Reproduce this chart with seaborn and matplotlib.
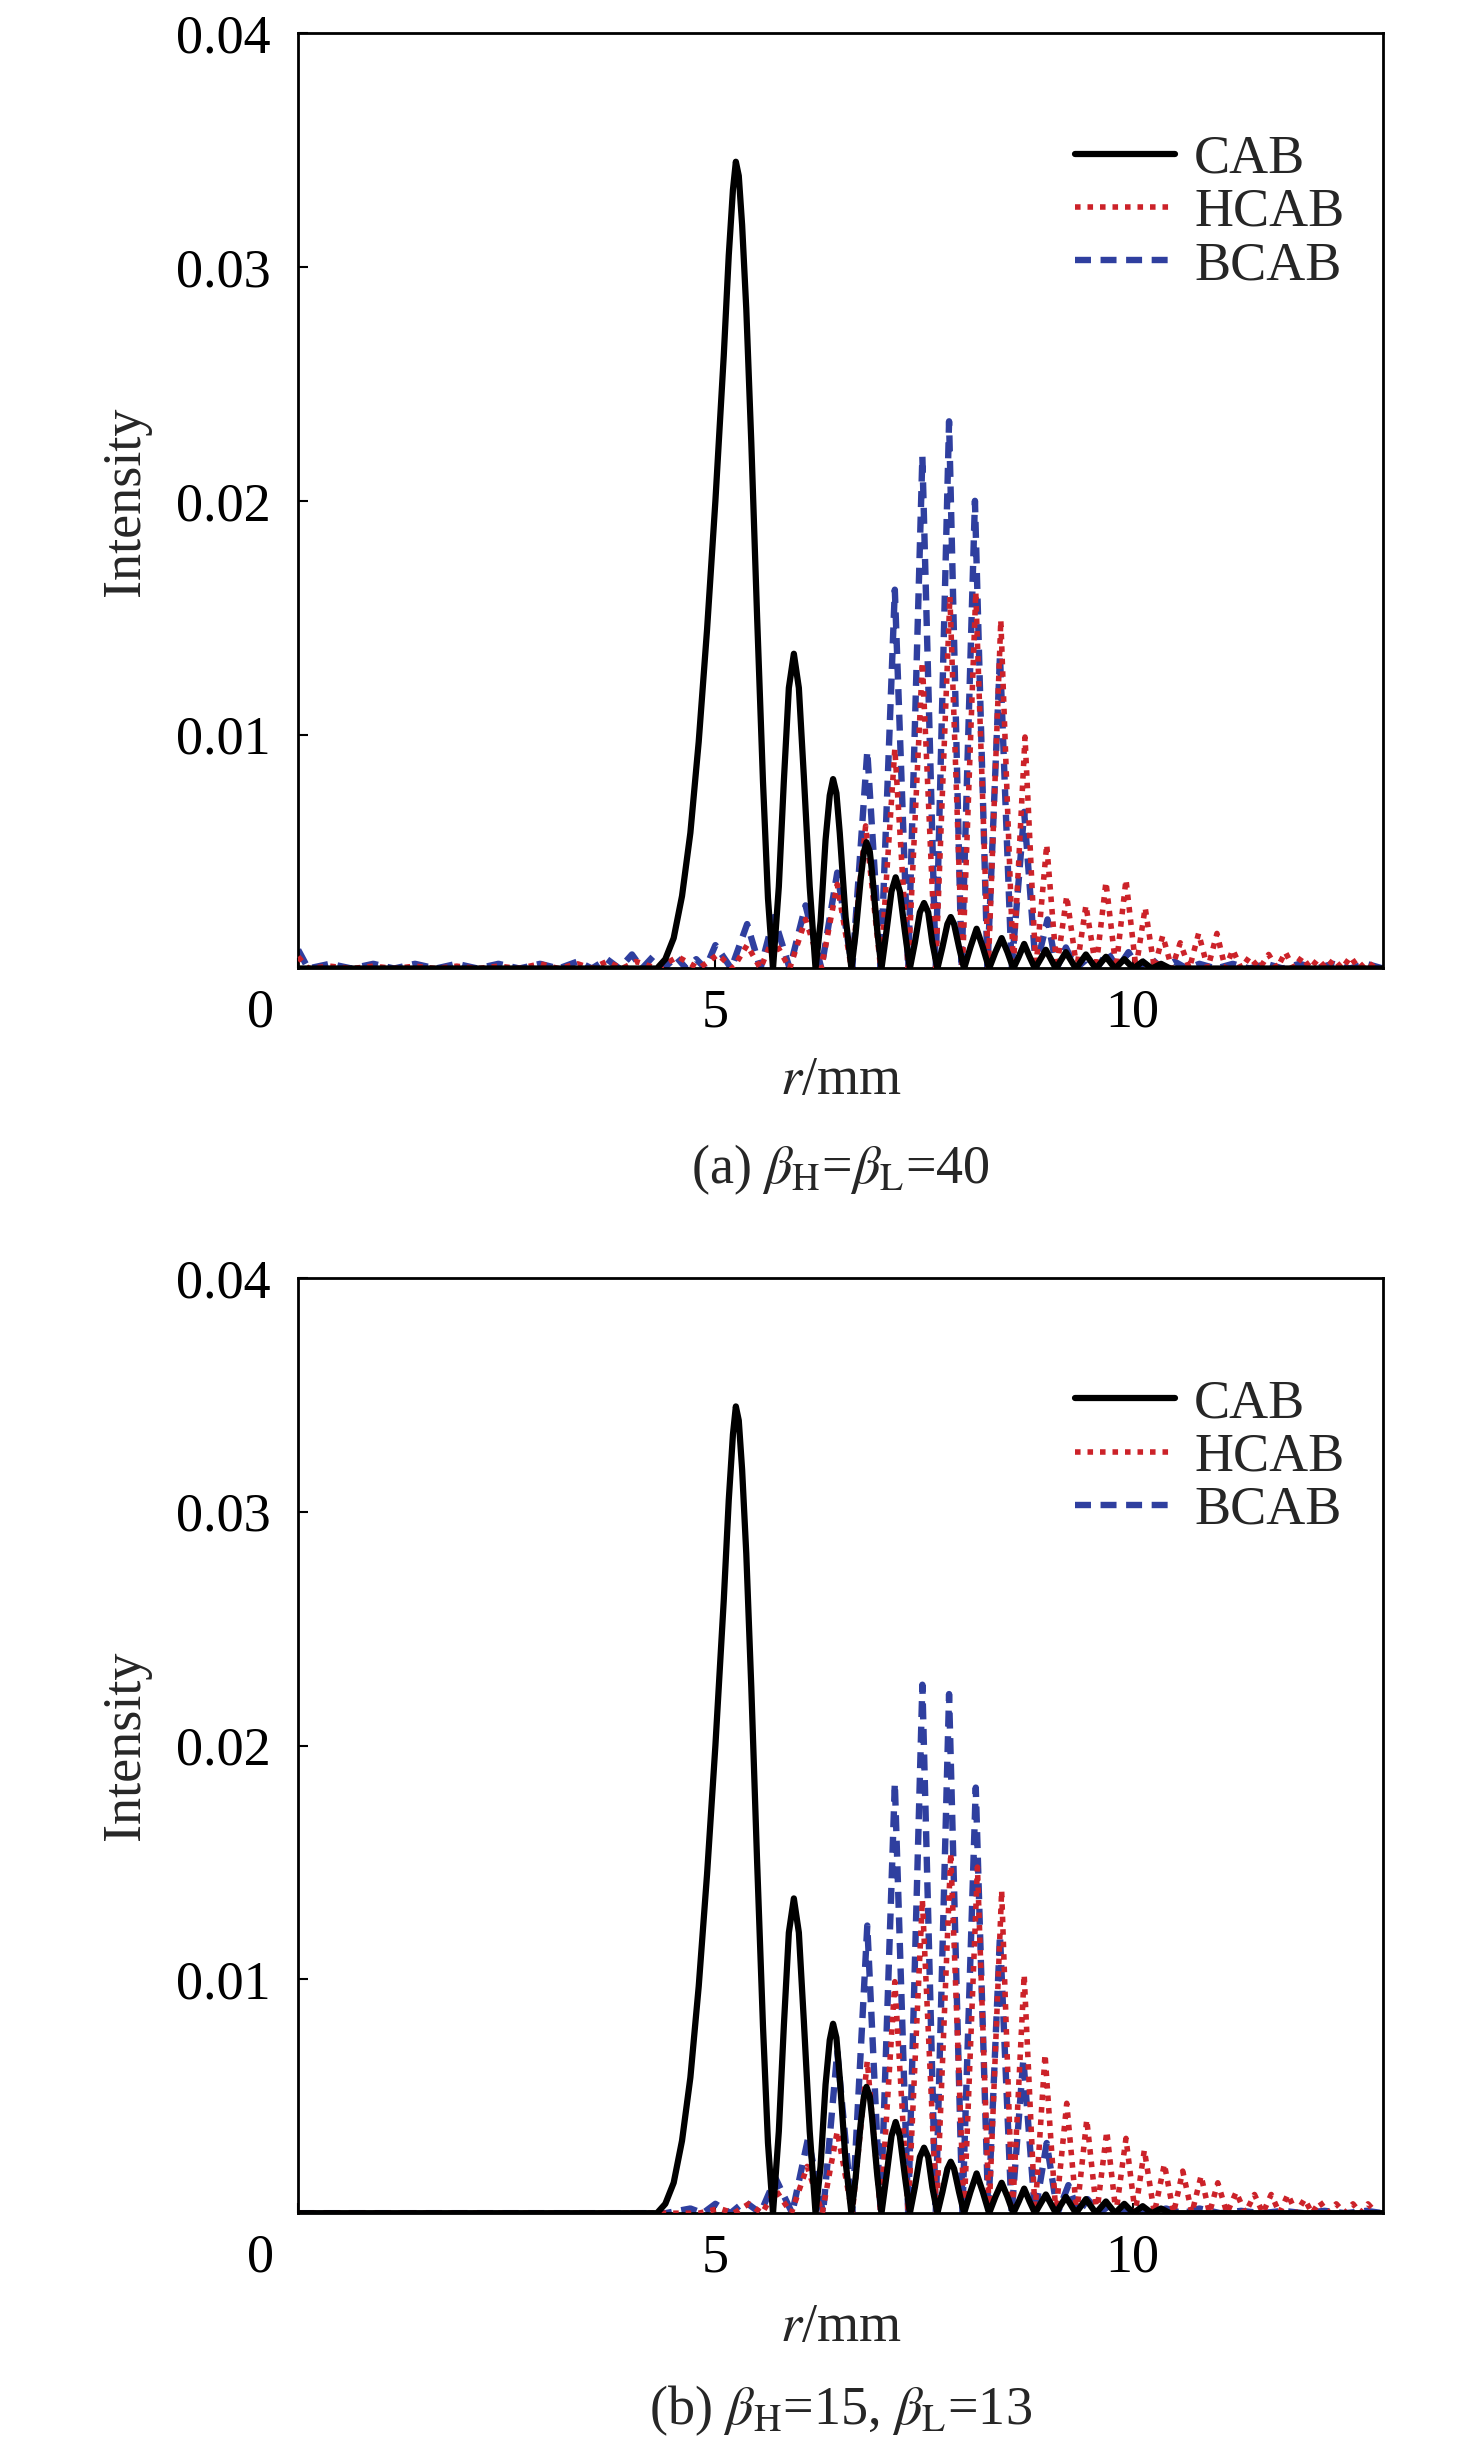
import numpy as np
import pandas as pd
import matplotlib
matplotlib.use("Agg")
import matplotlib.pyplot as plt
from matplotlib.transforms import ScaledTranslation
import seaborn as sns

# ---------------- data ----------------
# CAB curve (identical in both panels): explicit (r, intensity) points
cab_r = [0.0, 4.30, 4.40, 4.50, 4.60, 4.70, 4.80, 4.90, 5.00, 5.10, 5.16, 5.21, 5.245, 5.28, 5.32, 5.37, 5.43, 5.50, 5.57, 5.63, 5.69,
         5.76, 5.82, 5.88, 5.94, 6.00, 6.06, 6.13, 6.20,
         6.26, 6.32, 6.37, 6.41, 6.45, 6.49, 6.56, 6.63,
         6.68, 6.74, 6.78, 6.81, 6.85, 6.88, 6.94, 6.99,
         7.05, 7.11, 7.16, 7.21, 7.27, 7.33,
         7.39, 7.45, 7.50, 7.55, 7.60, 7.66,
         7.72, 7.78, 7.82, 7.86, 7.92, 7.98,
         8.055, 8.13, 8.205, 8.28,
         8.355, 8.43, 8.50, 8.57,
         8.635, 8.70, 8.765, 8.83,
         8.895, 8.96, 9.02, 9.08,
         9.20, 9.32, 9.44, 9.56, 9.68, 9.79, 9.90, 10.01, 10.12, 10.23, 10.34, 10.45, 13.0]
cab_i = [0.0, 0.0, 0.0004, 0.0013, 0.0031, 0.0058, 0.0097, 0.0145, 0.0200, 0.0262, 0.0305, 0.0333, 0.0345, 0.0339, 0.0318, 0.0282, 0.0225, 0.0150, 0.0080, 0.0030, 0.0,
         0.0035, 0.0080, 0.0120, 0.01346, 0.0120, 0.0082, 0.0035, 0.0,
         0.0020, 0.0055, 0.0074, 0.0081, 0.0075, 0.0058, 0.0022, 0.0,
         0.0015, 0.0038, 0.0050, 0.0054, 0.0050, 0.0040, 0.0016, 0.0,
         0.0016, 0.0033, 0.0039, 0.0033, 0.0016, 0.0,
         0.0011, 0.0024, 0.0028, 0.0024, 0.0011, 0.0,
         0.0009, 0.0019, 0.0022, 0.0019, 0.0009, 0.0,
         0.0009, 0.0017, 0.0009, 0.0,
         0.0007, 0.0013, 0.0007, 0.0,
         0.0005, 0.00105, 0.0005, 0.0,
         0.0004, 0.0008, 0.0004, 0.0,
         0.0007, 0.0, 0.0006, 0.0, 0.0005, 0.0, 0.0004, 0.0, 0.0003, 0.0, 0.0002, 0.0, 0.0]

# (a) beta_H = beta_L = 40
bcab_a_peak_r = [0.00, 0.38, 0.90, 1.40, 1.90, 2.40, 2.90, 3.35, 3.70, 4.00, 4.25, 4.53, 4.77, 5.00, 5.38, 5.70,
                 6.08, 6.46, 6.82, 7.15, 7.48, 7.80, 8.11, 8.41, 8.70, 8.98, 9.20, 9.45, 9.70, 9.95, 10.20,
                 10.50, 10.80, 11.20, 11.60, 12.00, 12.40, 12.80]
bcab_a_peak_i = [0.0008, 0.0002, 0.0002, 0.0002, 0.0002, 0.0002, 0.0002, 0.0003, 0.0004, 0.0006, 0.0005, 0.0005,
                 0.0004, 0.0010, 0.0019, 0.0022, 0.0027, 0.0041, 0.0093, 0.0162, 0.0219, 0.0234, 0.0200, 0.0134,
                 0.0067, 0.0021, 0.0009, 0.0004, 0.0007, 0.0007, 0.0005, 0.0003, 0.0002, 0.0002, 0.0002, 0.0002,
                 0.0002, 0.0002]
bcab_a_trough_r = [0.12, 0.64, 1.15, 1.65, 2.15, 2.65, 3.12, 3.52, 3.85, 4.12, 4.38, 4.65, 4.88, 5.19, 5.54, 5.89,
                   6.27, 6.64, 6.98, 7.31, 7.64, 7.95, 8.26, 8.55, 8.84, 9.09, 9.32, 9.57, 9.82, 10.07, 10.35,
                   10.65, 11.00, 11.40, 11.80, 12.20, 12.60, 13.00]

hcab_a_peak_r = [0.00, 0.38, 0.90, 1.40, 1.90, 2.40, 2.90, 3.35, 3.70, 4.05, 4.55, 5.03, 5.38, 5.69, 6.08, 6.46,
                 6.80, 7.15, 7.48, 7.81, 8.12, 8.42, 8.71, 8.97, 9.21, 9.44, 9.68, 9.92, 10.15, 10.36, 10.57,
                 10.79, 11.01, 11.20, 11.40, 11.63, 11.83, 12.03, 12.22, 12.41, 12.61, 12.80]
hcab_a_peak_i = [0.0005, 0.0001, 0.0001, 0.0001, 0.0001, 0.0001, 0.0002, 0.0002, 0.0003, 0.0003, 0.0005, 0.0006,
                 0.0010, 0.0013, 0.0021, 0.0036, 0.0061, 0.0094, 0.0131, 0.0159, 0.0161, 0.0149, 0.0099, 0.0053,
                 0.0031, 0.0027, 0.0037, 0.0038, 0.0026, 0.0014, 0.0011, 0.0015, 0.0015, 0.0008, 0.0005, 0.0006,
                 0.0007, 0.0005, 0.0004, 0.0004, 0.0005, 0.0003]
hcab_a_trough_r = [0.12, 0.64, 1.15, 1.65, 2.15, 2.65, 3.12, 3.52, 3.88, 4.30, 4.80, 5.21, 5.54, 5.89, 6.27, 6.63,
                   6.98, 7.31, 7.64, 7.96, 8.27, 8.57, 8.84, 9.09, 9.33, 9.56, 9.80, 10.04, 10.26, 10.47, 10.68,
                   10.90, 11.11, 11.30, 11.52, 11.73, 11.93, 12.13, 12.32, 12.51, 12.71, 12.92]

# (b) beta_H = 15, beta_L = 13
bcab_b_peak_r = [4.70, 5.00, 5.35, 5.72, 6.11, 6.46, 6.82, 7.15, 7.48, 7.80, 8.12, 8.41, 8.69, 8.97, 9.23, 9.46,
                 9.75, 10.00, 10.40, 10.80, 11.30, 11.80, 12.30, 12.80]
bcab_b_peak_i = [0.0002, 0.0004, 0.0005, 0.0015, 0.0032, 0.0069, 0.0123, 0.0184, 0.0226, 0.0222, 0.0182, 0.0119,
                 0.0066, 0.0030, 0.0012, 0.0006, 0.0004, 0.0003, 0.0002, 0.0002, 0.0001, 0.0001, 0.0001, 0.0001]
bcab_b_trough_r = [0.00, 4.40, 4.85, 5.18, 5.54, 5.92, 6.29, 6.64, 6.98, 7.31, 7.64, 7.96, 8.27, 8.55, 8.83, 9.10,
                   9.35, 9.60, 9.88, 10.20, 10.60, 11.05, 11.55, 12.05, 12.55, 13.00]

hcab_b_peak_r = [5.05, 5.40, 5.72, 6.10, 6.46, 6.82, 7.15, 7.48, 7.82, 8.14, 8.43, 8.70, 8.95, 9.21, 9.45, 9.69,
                 9.92, 10.14, 10.38, 10.60, 10.82, 11.02, 11.24, 11.46, 11.66, 11.86, 12.06, 12.24, 12.44, 12.64,
                 12.82]
hcab_b_peak_i = [0.0002, 0.0004, 0.0010, 0.0020, 0.0035, 0.0065, 0.0099, 0.0134, 0.0154, 0.0148, 0.0138, 0.0102,
                 0.0068, 0.0047, 0.0040, 0.0035, 0.0032, 0.0027, 0.0021, 0.0018, 0.0016, 0.0013, 0.0009, 0.0008,
                 0.0008, 0.0008, 0.0006, 0.0005, 0.0004, 0.0004, 0.0004]
hcab_b_trough_r = [0.00, 4.80, 5.22, 5.56, 5.91, 6.28, 6.64, 6.98, 7.31, 7.65, 7.98, 8.28, 8.56, 8.83, 9.08, 9.33,
                   9.57, 9.80, 10.03, 10.26, 10.49, 10.71, 10.92, 11.13, 11.35, 11.56, 11.76, 11.96, 12.15, 12.34,
                   12.54, 12.73, 12.92]

x_ticks = [0, 5, 10]
x_tick_labels = ["0", "5", "10"]
y_ticks = [0.01, 0.02, 0.03, 0.04]
y_tick_labels = ["0.01", "0.02", "0.03", "0.04"]
series_names = ["CAB", "HCAB", "BCAB"]
captions = [r"(a) $\beta_{\mathrm{H}}$=$\beta_{\mathrm{L}}$=40",
            r"(b) $\beta_{\mathrm{H}}$=15, $\beta_{\mathrm{L}}$=13"]


def lobes(peak_r, peak_i, trough_r):
    r = np.array(list(peak_r) + list(trough_r), dtype=float)
    v = np.array(list(peak_i) + [0.0] * len(trough_r), dtype=float)
    order = np.argsort(r, kind="stable")
    return pd.DataFrame({"r": r[order], "I": v[order]})


cab_df = pd.DataFrame({"r": cab_r, "I": cab_i})
panels = [
    (lobes(hcab_a_peak_r, hcab_a_peak_i, hcab_a_trough_r), lobes(bcab_a_peak_r, bcab_a_peak_i, bcab_a_trough_r)),
    (lobes(hcab_b_peak_r, hcab_b_peak_i, hcab_b_trough_r), lobes(bcab_b_peak_r, bcab_b_peak_i, bcab_b_trough_r)),
]

# ---------------- style ----------------
sns.set_theme(style="ticks")
plt.rcParams["font.family"] = ["Liberation Serif", "DejaVu Serif"]
plt.rcParams["mathtext.fontset"] = "stix"
plt.rcParams["axes.linewidth"] = 2.0
plt.rcParams["lines.dash_capstyle"] = "butt"

FS = 39
BLACK = "#000000"
RED = "#cc2229"
BLUE = "#2f3f9f"

fig = plt.figure(figsize=(14.76, 24.55), dpi=100)
axes_rects = [[0.202, 0.6055, 0.735, 0.381], [0.202, 0.0985, 0.735, 0.381]]
xlabel_y = [0.5598, 0.0520]
caption_y = [0.5234, 0.0179]

for k, (rect, (hdf, bdf)) in enumerate(zip(axes_rects, panels)):
    ax = fig.add_axes(rect)
    sns.lineplot(data=bdf, x="r", y="I", ax=ax, color=BLUE, lw=4.6, linestyle=(0, (2.5, 1.5)),
                 estimator=None, sort=False, label=series_names[2], zorder=2)
    sns.lineplot(data=hdf, x="r", y="I", ax=ax, color=RED, lw=4.0, linestyle=(0, (1.0, 1.25)),
                 estimator=None, sort=False, label=series_names[1], zorder=3)
    sns.lineplot(data=cab_df, x="r", y="I", ax=ax, color=BLACK, lw=4.5, linestyle="-",
                 estimator=None, sort=False, label=series_names[0], zorder=4)
    for line in ax.get_lines():
        line.set_solid_capstyle("round")
        line.set_solid_joinstyle("round")

    ax.set_xlim(0, 13)
    ax.set_ylim(0, 0.04)
    ax.set_xticks(x_ticks)
    ax.set_xticklabels(x_tick_labels)
    ax.set_yticks(y_ticks)
    ax.set_yticklabels(y_tick_labels)
    ax.tick_params(axis="both", direction="in", length=7, width=1.5, labelsize=FS, colors="black")
    ax.tick_params(axis="y", pad=20)
    ax.tick_params(axis="x", pad=14)
    ax.set_xlabel("")
    ax.set_ylabel("")
    for s in ax.spines.values():
        s.set_visible(True)
        s.set_color("black")
        s.set_linewidth(2.0)
    # shift the origin label "0" slightly left, as in the reference
    lbl0 = ax.get_xticklabels()[0]
    lbl0.set_transform(lbl0.get_transform() + ScaledTranslation(-0.38, 0, fig.dpi_scale_trans))

    handles, labels = ax.get_legend_handles_labels()
    hmap = dict(zip(labels, handles))
    ax.legend([hmap[n] for n in series_names], series_names, loc="upper left",
              bbox_to_anchor=(0.716, 0.892), frameon=False, fontsize=FS,
              handlelength=1.85, handletextpad=0.35, labelspacing=0.05,
              borderpad=0.0, borderaxespad=0.0)

    yc = rect[1] + rect[3] / 2
    fig.text(0.085, yc, "Intensity", rotation=90, ha="center", va="center", fontsize=FS)
    fig.text(0.5697, xlabel_y[k], r"$r$/mm", ha="center", va="center", fontsize=FS)
    fig.text(0.5697, caption_y[k], captions[k], ha="center", va="center", fontsize=FS)

fig.savefig("out.png", dpi=100, facecolor="white")
